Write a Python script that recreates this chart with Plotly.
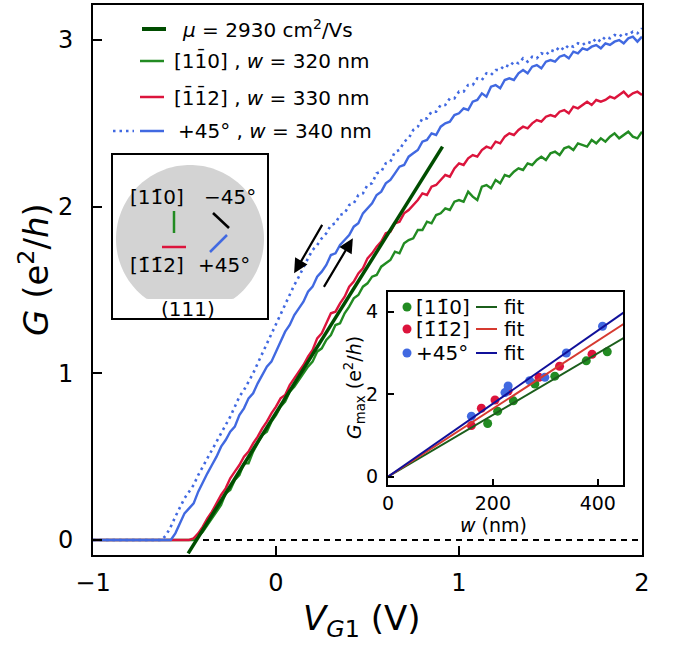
import numpy as np
import plotly.graph_objects as go

W, H = 675, 648
FONT = "DejaVu Sans"

# ---------------- main data ----------------
V = [-1.0, -0.7, -0.675, -0.65, -0.625, -0.6, -0.575, -0.55, -0.525, -0.5,
     -0.475, -0.45, -0.425, -0.4, -0.375, -0.35, -0.325, -0.3, -0.275, -0.25,
     -0.225, -0.2, -0.175, -0.15, -0.125, -0.1, -0.075, -0.05, -0.025, 0.0,
     0.025, 0.05, 0.075, 0.1, 0.125, 0.15, 0.175, 0.2, 0.225, 0.25,
     0.275, 0.3, 0.325, 0.35, 0.375, 0.4, 0.425, 0.45, 0.475, 0.5,
     0.525, 0.55, 0.575, 0.6, 0.625, 0.65, 0.675, 0.7, 0.725, 0.75,
     0.775, 0.8, 0.825, 0.85, 0.875, 0.9, 0.925, 0.95, 0.975, 1.0,
     1.025, 1.05, 1.075, 1.1, 1.125, 1.15, 1.175, 1.2, 1.225, 1.25,
     1.275, 1.3, 1.325, 1.35, 1.375, 1.4, 1.425, 1.45, 1.475, 1.5,
     1.525, 1.55, 1.575, 1.6, 1.625, 1.65, 1.675, 1.7, 1.725, 1.75,
     1.775, 1.8, 1.825, 1.85, 1.875, 1.9, 1.925, 1.95, 1.975, 2.0]

G_110 = [0, 0, 0, 0, 0, 0, 0, 0, 0, 0,
         0, 0.0, 0.02, 0.05, 0.09, 0.13, 0.17, 0.21, 0.28, 0.30,
         0.36, 0.39, 0.46, 0.46, 0.53, 0.58, 0.63, 0.65, 0.71, 0.75,
         0.80, 0.83, 0.89, 0.92, 0.96, 1.00, 1.04, 1.07, 1.13, 1.15,
         1.20, 1.23, 1.29, 1.30, 1.36, 1.40, 1.45, 1.47, 1.52, 1.54,
         1.58, 1.59, 1.64, 1.66, 1.68, 1.73, 1.72, 1.78, 1.80, 1.81,
         1.86, 1.86, 1.91, 1.90, 1.95, 1.96, 1.99, 1.98, 2.03, 2.04,
         2.03, 2.09, 2.06, 2.04, 2.12, 2.13, 2.11, 2.16, 2.14, 2.19,
         2.18, 2.21, 2.23, 2.22, 2.26, 2.25, 2.28, 2.30, 2.28, 2.32,
         2.33, 2.31, 2.35, 2.36, 2.34, 2.38, 2.37, 2.36, 2.40, 2.38,
         2.41, 2.39, 2.42, 2.44, 2.41, 2.43, 2.45, 2.42, 2.41, 2.45]

G_112 = [0, 0, 0, 0, 0, 0, 0, 0, 0, 0,
         0, 0.01, 0.04, 0.08, 0.13, 0.17, 0.22, 0.27, 0.31, 0.37,
         0.41, 0.45, 0.50, 0.53, 0.58, 0.62, 0.67, 0.71, 0.76, 0.80,
         0.85, 0.87, 0.93, 0.97, 1.01, 1.05, 1.10, 1.14, 1.21, 1.24,
         1.30, 1.36, 1.37, 1.42, 1.46, 1.52, 1.55, 1.60, 1.63, 1.69,
         1.72, 1.76, 1.79, 1.84, 1.85, 1.90, 1.91, 1.96, 1.98, 2.01,
         2.04, 2.08, 2.07, 2.12, 2.13, 2.16, 2.19, 2.18, 2.23, 2.26,
         2.25, 2.29, 2.31, 2.30, 2.34, 2.36, 2.35, 2.39, 2.38, 2.42,
         2.44, 2.43, 2.46, 2.48, 2.47, 2.50, 2.52, 2.51, 2.54, 2.55,
         2.54, 2.57, 2.58, 2.56, 2.60, 2.59, 2.61, 2.63, 2.61, 2.64,
         2.63, 2.64, 2.66, 2.65, 2.67, 2.69, 2.66, 2.68, 2.69, 2.67]

G_45 = [0, 0, 0, 0, 0, 0, 0, 0.04, 0.10, 0.16,
        0.19, 0.22, 0.29, 0.35, 0.40, 0.45, 0.50, 0.56, 0.60, 0.65,
        0.68, 0.75, 0.79, 0.85, 0.88, 0.94, 0.99, 1.04, 1.07, 1.13,
        1.19, 1.25, 1.29, 1.35, 1.39, 1.43, 1.49, 1.52, 1.58, 1.61,
        1.65, 1.71, 1.72, 1.77, 1.80, 1.83, 1.88, 1.90, 1.96, 1.99,
        2.02, 2.07, 2.09, 2.14, 2.16, 2.20, 2.24, 2.25, 2.30, 2.32,
        2.34, 2.39, 2.40, 2.44, 2.43, 2.48, 2.50, 2.51, 2.55, 2.56,
        2.59, 2.58, 2.63, 2.64, 2.68, 2.66, 2.72, 2.73, 2.71, 2.76,
        2.77, 2.76, 2.80, 2.82, 2.80, 2.84, 2.85, 2.83, 2.87, 2.88,
        2.87, 2.90, 2.91, 2.89, 2.93, 2.92, 2.95, 2.94, 2.96, 2.97,
        2.95, 2.98, 2.97, 2.99, 3.00, 2.98, 3.01, 3.02, 2.99, 3.02]

G_45_rev = [0, 0, 0, 0, 0, 0.03, 0.08, 0.14, 0.20, 0.25,
            0.29, 0.33, 0.39, 0.44, 0.49, 0.54, 0.59, 0.64, 0.69, 0.74,
            0.80, 0.86, 0.90, 0.95, 1.00, 1.06, 1.12, 1.18, 1.24, 1.30,
            1.36, 1.41, 1.47, 1.53, 1.58, 1.64, 1.69, 1.74, 1.77, 1.81,
            1.84, 1.89, 1.90, 1.95, 1.96, 2.01, 2.02, 2.07, 2.08, 2.13,
            2.14, 2.20, 2.21, 2.26, 2.27, 2.33, 2.34, 2.39, 2.41, 2.46,
            2.48, 2.53, 2.53, 2.57, 2.57, 2.61, 2.61, 2.65, 2.65, 2.69,
            2.69, 2.73, 2.73, 2.77, 2.76, 2.80, 2.79, 2.82, 2.82, 2.85,
            2.84, 2.87, 2.86, 2.89, 2.87, 2.90, 2.89, 2.92, 2.91, 2.94,
            2.93, 2.96, 2.94, 2.97, 2.96, 2.98, 2.97, 2.99, 2.98, 3.01,
            2.99, 3.02, 3.01, 3.03, 3.02, 3.04, 3.03, 3.05, 3.04, 3.07]

for arr in (G_110, G_112, G_45, G_45_rev):
    assert len(arr) == len(V)

V_fit = [-0.48, 0.91]
G_fit = [-0.08, 2.36]
zero_V = [-1.0, 2.0]
zero_G = [0.0, 0.0]

x_ticks = [-1, 0, 1, 2]
y_ticks = [0, 1, 2, 3]

# ---------------- inset data ----------------
w_110 = [190, 209, 239, 280, 318, 378, 418]
Gm_110 = [1.29, 1.59, 1.84, 2.25, 2.44, 2.81, 3.03]
w_112 = [159, 178, 204, 229, 288, 327, 389]
Gm_112 = [1.24, 1.66, 1.86, 2.08, 2.41, 2.68, 2.97]
w_45 = [159, 223, 229, 270, 299, 340, 409]
Gm_45 = [1.47, 2.04, 2.20, 2.33, 2.41, 3.00, 3.65]
fit_w = [0, 450]
fit_110 = [0, 3.37]
fit_112 = [0, 3.71]
fit_45 = [0, 3.99]
inset_xticks = [0, 200, 400]
inset_yticks = [0, 2, 4]

# colours
C_GREEN = "#228B22"
C_RED = "#DC143C"
C_BLUE = "#4169E1"
C_FIT = "#004d00"
C_FIT_G = "#1b5e1b"
C_FIT_R = "#d63a30"
C_FIT_B = "#10109a"


def px(x):
    return x / W


def py(y):
    return 1 - y / H


fig = go.Figure()

# main traces
fig.add_trace(go.Scatter(x=zero_V, y=zero_G, mode="lines",
                         line=dict(color="black", width=1.8, dash="6px,5px"),
                         xaxis="x", yaxis="y", showlegend=False))
fig.add_trace(go.Scatter(x=V, y=G_110, mode="lines", line=dict(color=C_GREEN, width=2.4),
                         showlegend=False))
fig.add_trace(go.Scatter(x=V, y=G_112, mode="lines", line=dict(color=C_RED, width=2.4),
                         showlegend=False))
fig.add_trace(go.Scatter(x=V, y=G_45, mode="lines", line=dict(color=C_BLUE, width=2.4),
                         showlegend=False))
fig.add_trace(go.Scatter(x=V, y=G_45_rev, mode="lines",
                         line=dict(color=C_BLUE, width=2.6, dash="2.5px,4px"),
                         showlegend=False))
fig.add_trace(go.Scatter(x=V_fit, y=G_fit, mode="lines", line=dict(color=C_FIT, width=3.5),
                         showlegend=False))

# inset traces
for w, g, c in ((w_110, Gm_110, C_GREEN), (w_112, Gm_112, C_RED), (w_45, Gm_45, C_BLUE)):
    fig.add_trace(go.Scatter(x=w, y=g, mode="markers", marker=dict(color=c, size=9),
                             xaxis="x2", yaxis="y2", showlegend=False))
for f, c in ((fit_110, C_FIT_G), (fit_112, C_FIT_R), (fit_45, C_FIT_B)):
    fig.add_trace(go.Scatter(x=fit_w, y=f, mode="lines", line=dict(color=c, width=2),
                             xaxis="x2", yaxis="y2", showlegend=False))

shapes = []
annotations = []

# ---------------- main legend (manual) ----------------
leg_rows = [29, 61, 97, 131]
shapes.append(dict(type="line", xref="paper", yref="paper", x0=px(142), x1=px(166),
                   y0=py(leg_rows[0]), y1=py(leg_rows[0]), line=dict(color=C_FIT, width=4)))
shapes.append(dict(type="line", xref="paper", yref="paper", x0=px(140), x1=px(164),
                   y0=py(leg_rows[1]), y1=py(leg_rows[1]), line=dict(color=C_GREEN, width=2.5)))
shapes.append(dict(type="line", xref="paper", yref="paper", x0=px(140), x1=px(164),
                   y0=py(leg_rows[2]), y1=py(leg_rows[2]), line=dict(color=C_RED, width=2.5)))
shapes.append(dict(type="line", xref="paper", yref="paper", x0=px(113), x1=px(134),
                   y0=py(leg_rows[3]), y1=py(leg_rows[3]),
                   line=dict(color=C_BLUE, width=2.6, dash="2.5px,4px")))
shapes.append(dict(type="line", xref="paper", yref="paper", x0=px(140), x1=px(164),
                   y0=py(leg_rows[3]), y1=py(leg_rows[3]), line=dict(color=C_BLUE, width=2.5)))

OB = "\u0304"
leg_texts = [
    ("<i>μ</i> = 2930 cm<sup>2</sup>/Vs", 180),
    ("[11" + OB + "0] , <i>w</i> = 320 nm", 172),
    ("[1" + OB + "1" + OB + "2] , <i>w</i> = 330 nm", 172),
    ("+45° , <i>w</i> = 340 nm", 176),
]
for (t, x0), yr in zip(leg_texts, leg_rows):
    annotations.append(dict(text=t, xref="paper", yref="paper", x=px(x0), y=py(yr),
                            xanchor="left", yanchor="middle", showarrow=False,
                            font=dict(family=FONT, size=20, color="black")))

# ---------------- schematic inset ----------------
shapes.append(dict(type="rect", xref="paper", yref="paper", x0=px(112), x1=px(268),
                   y0=py(319), y1=py(154), line=dict(color="black", width=2),
                   fillcolor="white", layer="above"))
cx, cy, r, cut = 190, 239, 74, 299
ang = np.linspace(0, 2 * np.pi, 181)
pts = [(cx + r * np.cos(a), min(cy + r * np.sin(a), cut)) for a in ang]
path = "M " + " L ".join(f"{px(x):.5f},{py(y):.5f}" for x, y in pts) + " Z"
shapes.append(dict(type="path", xref="paper", yref="paper", path=path,
                   fillcolor="#d3d3d3", line=dict(width=0), layer="above"))
for (x0, y0, x1, y1, c) in ((174, 211, 174, 233, C_GREEN), (162, 247, 186, 247, C_RED),
                            (213, 213, 229, 228, "black"), (227, 235, 210, 252, C_BLUE)):
    shapes.append(dict(type="line", xref="paper", yref="paper", x0=px(x0), x1=px(x1),
                       y0=py(y0), y1=py(y1), line=dict(color=c, width=2.5), layer="above"))
for t, x0, y0 in (("[11" + OB + "0]", 157, 197), ("\u221245°", 230, 197),
                  ("[1" + OB + "1" + OB + "2]", 157, 265), ("+45°", 224, 265),
                  ("(111)", 188, 309)):
    annotations.append(dict(text=t, xref="paper", yref="paper", x=px(x0), y=py(y0),
                            xanchor="center", yanchor="middle", showarrow=False,
                            font=dict(family=FONT, size=20, color="black")))

# ---------------- arrows ----------------
for (hx, hy, tx, ty) in ((0.099, 1.60, 0.257, 1.90), (0.42, 1.81, 0.257, 1.51)):
    annotations.append(dict(x=hx, y=hy, ax=tx, ay=ty, xref="x", yref="y", axref="x", ayref="y",
                            text="", showarrow=True, arrowhead=2, arrowsize=1.3,
                            arrowwidth=2.2, arrowcolor="black"))

# ---------------- inset legend ----------------
il_rows = [307, 329, 353]
il_labels = ["[11" + OB + "0]", "[1" + OB + "1" + OB + "2]", "+45°"]
for yr, lab, c, fc in zip(il_rows, il_labels, (C_GREEN, C_RED, C_BLUE), (C_FIT_G, C_FIT_R, C_FIT_B)):
    shapes.append(dict(type="circle", xref="paper", yref="paper", x0=px(402.5), x1=px(411.5),
                       y0=py(yr + 4.5), y1=py(yr - 4.5), fillcolor=c, line=dict(width=0),
                       layer="above"))
    shapes.append(dict(type="line", xref="paper", yref="paper", x0=px(476), x1=px(497),
                       y0=py(yr), y1=py(yr), line=dict(color=fc, width=2), layer="above"))
    annotations.append(dict(text=lab, xref="paper", yref="paper", x=px(414), y=py(yr),
                            xanchor="left", yanchor="middle", showarrow=False,
                            font=dict(family=FONT, size=20, color="black")))
    annotations.append(dict(text="fit", xref="paper", yref="paper", x=px(502), y=py(yr),
                            xanchor="left", yanchor="middle", showarrow=False,
                            font=dict(family=FONT, size=20, color="black")))

# ---------------- axis titles ----------------
annotations.append(dict(text="<i>V</i><sub><i>G</i>1</sub> (V)", xref="paper", yref="paper",
                        x=px(361), y=py(620), xanchor="center", yanchor="middle",
                        showarrow=False, font=dict(family=FONT, size=34, color="black")))
annotations.append(dict(text="<i>G</i> (e<sup>2</sup>/<i>h</i>)", xref="paper", yref="paper",
                        x=px(34), y=py(270), xanchor="center", yanchor="middle", textangle=-90,
                        showarrow=False, font=dict(family=FONT, size=34, color="black")))
annotations.append(dict(text="<i>w</i> (nm)", xref="paper", yref="paper",
                        x=px(493), y=py(525), xanchor="center", yanchor="middle",
                        showarrow=False, font=dict(family=FONT, size=19, color="black")))
annotations.append(dict(text="<i>G</i><sub>max</sub> (e<sup>2</sup>/<i>h</i>)", xref="paper",
                        yref="paper", x=px(354), y=py(388), xanchor="center", yanchor="middle",
                        textangle=-90, showarrow=False,
                        font=dict(family=FONT, size=19, color="black")))

axis_common = dict(showline=True, linecolor="black", mirror=True, ticks="inside",
                   showgrid=False, zeroline=False, tickcolor="black", automargin=False)

fig.update_layout(
    template="none",
    width=W, height=H, autosize=False,
    margin=dict(l=0, r=0, t=0, b=0, pad=0),
    paper_bgcolor="white", plot_bgcolor="white",
    font=dict(family=FONT, color="black"),
    showlegend=False,
    xaxis=dict(domain=[px(93), px(642)], range=[-1, 2], tickvals=x_ticks,
               ticktext=["\u22121", "0", "1", "2"], linewidth=2, ticklen=9, tickwidth=1.5,
               tickfont=dict(size=24), ticklabelstandoff=5, anchor="y", **axis_common),
    yaxis=dict(domain=[py(555), py(5)], range=[-0.09, 3.21], tickvals=y_ticks,
               linewidth=2, ticklen=9, tickwidth=1.5, tickfont=dict(size=24),
               ticklabelstandoff=13, anchor="x", **axis_common),
    xaxis2=dict(domain=[px(388), px(623)], range=[0, 448], tickvals=inset_xticks,
                linewidth=2, ticklen=6, tickwidth=1.5, tickfont=dict(size=19),
                ticklabelstandoff=0, anchor="y2", **axis_common),
    yaxis2=dict(domain=[py(485), py(292)], range=[-0.2, 4.48], tickvals=inset_yticks,
                linewidth=2, ticklen=6, tickwidth=1.5, tickfont=dict(size=19),
                ticklabelstandoff=4, anchor="x2", **axis_common),
    shapes=shapes,
    annotations=annotations,
)

fig.write_html("out.html")
